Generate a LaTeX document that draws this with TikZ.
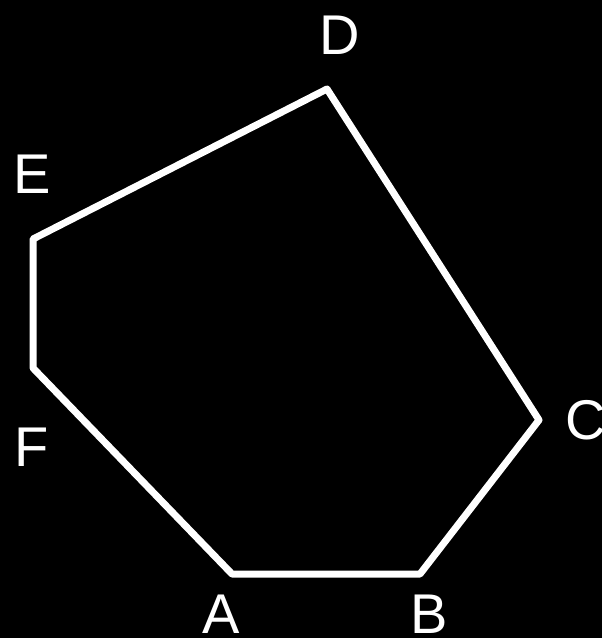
\documentclass[tikz,border=0pt]{standalone}
\usepackage{fontspec}
\setmainfont{Liberation Sans}
\usepackage{xcolor}
\usepackage{tikz}
\usetikzlibrary{positioning}

\begin{document}
\begin{tikzpicture}[x=1pt, y=-1pt,
    vlabel/.style={text=white, inner sep=0pt, font=\fontsize{56}{60}\selectfont},
    side/.style={draw=white, line width=7pt, line join=round}]
    \fill[black] (0,0) rectangle (602,638);
    \useasboundingbox (0,0) rectangle (602,638);
    % corners of the hexagon
    \coordinate (pA) at (232,574);
    \coordinate (pB) at (420,574);
    \coordinate (pC) at (539,420);
    \coordinate (pD) at (327,89);
    \coordinate (pE) at (33,239);
    \coordinate (pF) at (33,368);
    \draw[side] (pA) -- (pB) -- (pC) -- (pD) -- (pE) -- (pF) -- cycle;
    % letters
    \node[vlabel] (A) at (221,614) {A};
    \node[vlabel] (B) at (429,614) {B};
    \node[vlabel, anchor=west] (C) at (565,420) {C};
    \node[vlabel] (D) at (340,35) {D};
    \node[vlabel] (E) at (32,174) {E};
    \node[vlabel] (F) at (32,447) {F};
\end{tikzpicture}
\end{document}
